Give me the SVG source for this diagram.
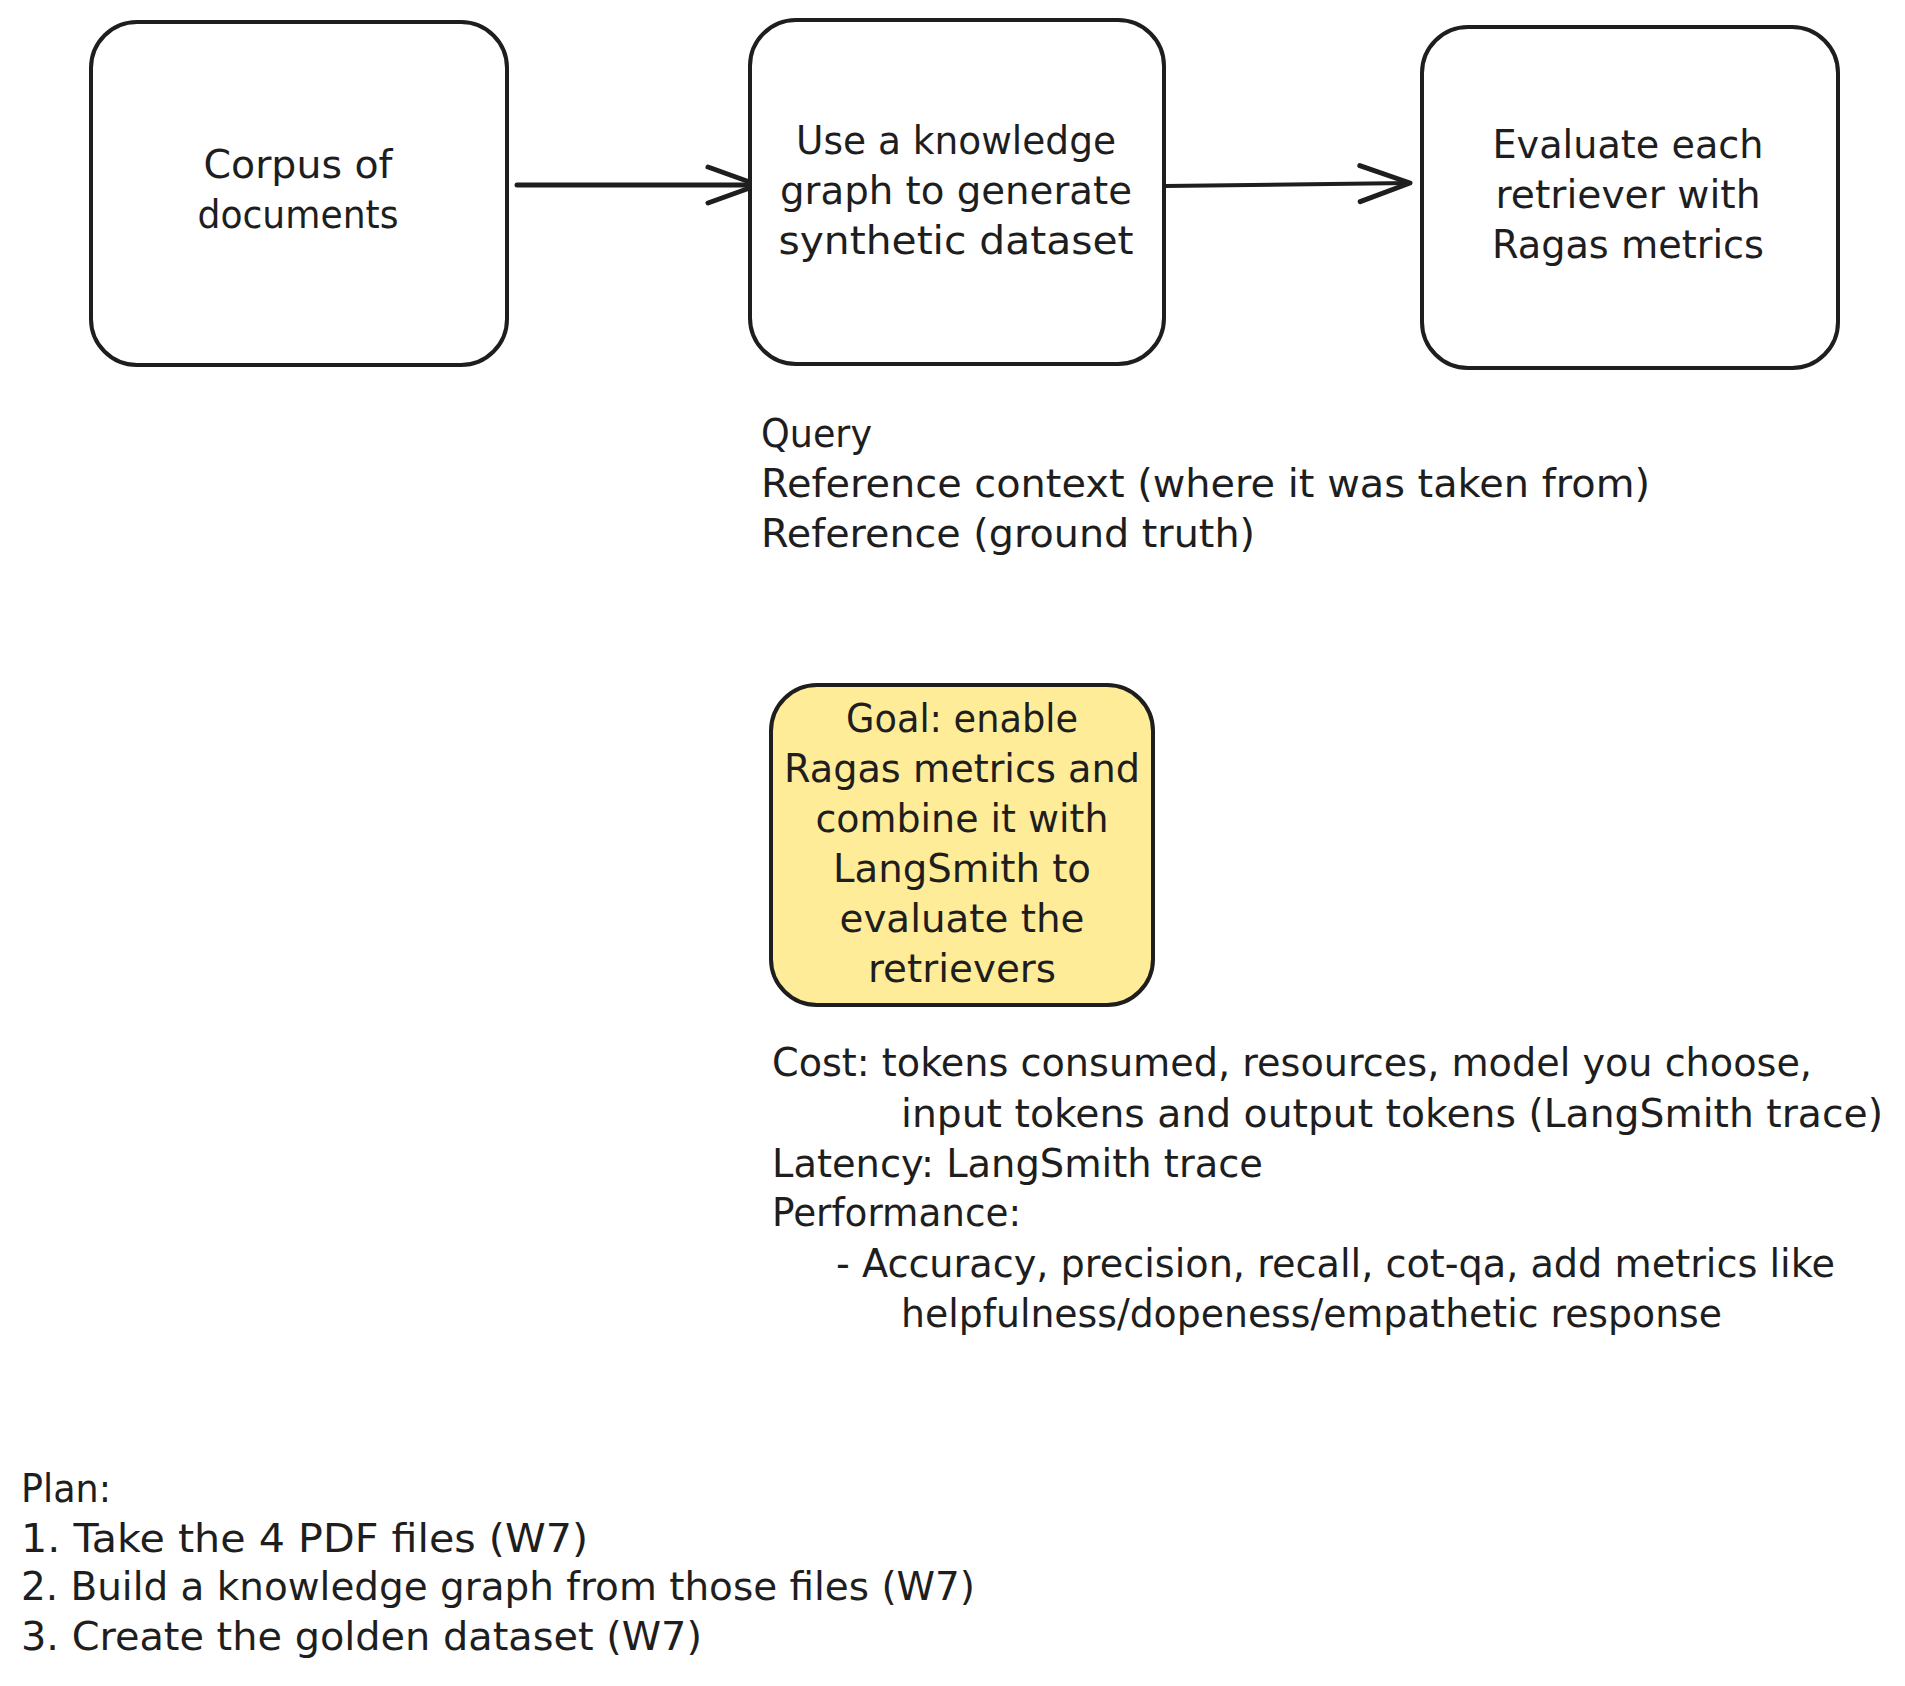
<svg xmlns="http://www.w3.org/2000/svg" width="1905" height="1686" viewBox="0 0 1905 1686">
<defs>
<style>
.box{fill:#ffffff;stroke:#1e1e1e;stroke-width:4;}
.goal{fill:#ffec99;stroke:#1e1e1e;stroke-width:4;}
.t{font-family:"DejaVu Sans","Liberation Sans",sans-serif;font-size:39px;fill:#1e1e1e;}
.c{text-anchor:middle;}
.edge{fill:none;stroke:#1e1e1e;stroke-width:5;stroke-linecap:round;}
</style>
<marker id="arrow" markerUnits="userSpaceOnUse" markerWidth="60" markerHeight="50" viewBox="-55 -25 60 50" refX="0" refY="0" orient="auto" overflow="visible">
<path d="M-50,-18 L0,0 L-50,18" fill="none" stroke="#1e1e1e" stroke-width="5" stroke-linecap="round" stroke-linejoin="round"/>
</marker>
</defs>
<rect width="1905" height="1686" fill="#ffffff"/>
<g id="connectors">
<path class="edge" d="M517 185 L758 185" marker-end="url(#arrow)"/>
<path class="edge" d="M1165 186 L1410 183" marker-end="url(#arrow)" style="stroke-width:4"/>
</g>
<g id="node-corpus">
<rect class="box" x="91" y="22" width="416" height="343" rx="46"/>
<text class="t c" x="298" y="178" textLength="189" lengthAdjust="spacingAndGlyphs">Corpus of</text>
<text class="t c" x="298" y="228" textLength="201" lengthAdjust="spacingAndGlyphs">documents</text>
</g>
<g id="node-kg">
<rect class="box" x="750" y="20" width="414" height="344" rx="46"/>
<text class="t c" x="956" y="154" textLength="320" lengthAdjust="spacingAndGlyphs">Use a knowledge</text>
<text class="t c" x="956" y="204" textLength="352" lengthAdjust="spacingAndGlyphs">graph to generate</text>
<text class="t c" x="956" y="254" textLength="355" lengthAdjust="spacingAndGlyphs">synthetic dataset</text>
</g>
<g id="node-eval">
<rect class="box" x="1422" y="27" width="416" height="341" rx="46"/>
<text class="t c" x="1628" y="158" textLength="271" lengthAdjust="spacingAndGlyphs">Evaluate each</text>
<text class="t c" x="1628" y="208" textLength="265" lengthAdjust="spacingAndGlyphs">retriever with</text>
<text class="t c" x="1628" y="258" textLength="272" lengthAdjust="spacingAndGlyphs">Ragas metrics</text>
</g>
<g id="text-query">
<text class="t" x="761" y="447" textLength="111" lengthAdjust="spacingAndGlyphs">Query</text>
<text class="t" x="761" y="497" textLength="889" lengthAdjust="spacingAndGlyphs">Reference context (where it was taken from)</text>
<text class="t" x="761" y="547" textLength="494" lengthAdjust="spacingAndGlyphs">Reference (ground truth)</text>
</g>
<g id="node-goal">
<rect class="goal" x="771" y="685" width="382" height="320" rx="46"/>
<text class="t c" x="962" y="732" textLength="232" lengthAdjust="spacingAndGlyphs">Goal: enable</text>
<text class="t c" x="962" y="782" textLength="356" lengthAdjust="spacingAndGlyphs">Ragas metrics and</text>
<text class="t c" x="962" y="832" textLength="293" lengthAdjust="spacingAndGlyphs">combine it with</text>
<text class="t c" x="962" y="882" textLength="258" lengthAdjust="spacingAndGlyphs">LangSmith to</text>
<text class="t c" x="962" y="932" textLength="245" lengthAdjust="spacingAndGlyphs">evaluate the</text>
<text class="t c" x="962" y="982" textLength="188" lengthAdjust="spacingAndGlyphs">retrievers</text>
</g>
<g id="text-cost">
<text class="t" x="772" y="1076" textLength="1040" lengthAdjust="spacingAndGlyphs">Cost: tokens consumed, resources, model you choose,</text>
<text class="t" x="901" y="1127" textLength="982" lengthAdjust="spacingAndGlyphs">input tokens and output tokens (LangSmith trace)</text>
<text class="t" x="772" y="1177" textLength="491" lengthAdjust="spacingAndGlyphs">Latency: LangSmith trace</text>
<text class="t" x="772" y="1226" textLength="249" lengthAdjust="spacingAndGlyphs">Performance:</text>
<text class="t" x="836" y="1277" textLength="999" lengthAdjust="spacingAndGlyphs">- Accuracy, precision, recall, cot-qa, add metrics like</text>
<text class="t" x="901" y="1327" textLength="821" lengthAdjust="spacingAndGlyphs">helpfulness/dopeness/empathetic response</text>
</g>
<g id="text-plan">
<text class="t" x="21" y="1502" textLength="90" lengthAdjust="spacingAndGlyphs">Plan:</text>
<text class="t" x="21" y="1552" textLength="567" lengthAdjust="spacingAndGlyphs">1. Take the 4 PDF files (W7)</text>
<text class="t" x="21" y="1600" textLength="954" lengthAdjust="spacingAndGlyphs">2. Build a knowledge graph from those files (W7)</text>
<text class="t" x="21" y="1650" textLength="681" lengthAdjust="spacingAndGlyphs">3. Create the golden dataset (W7)</text>
</g>
</svg>
